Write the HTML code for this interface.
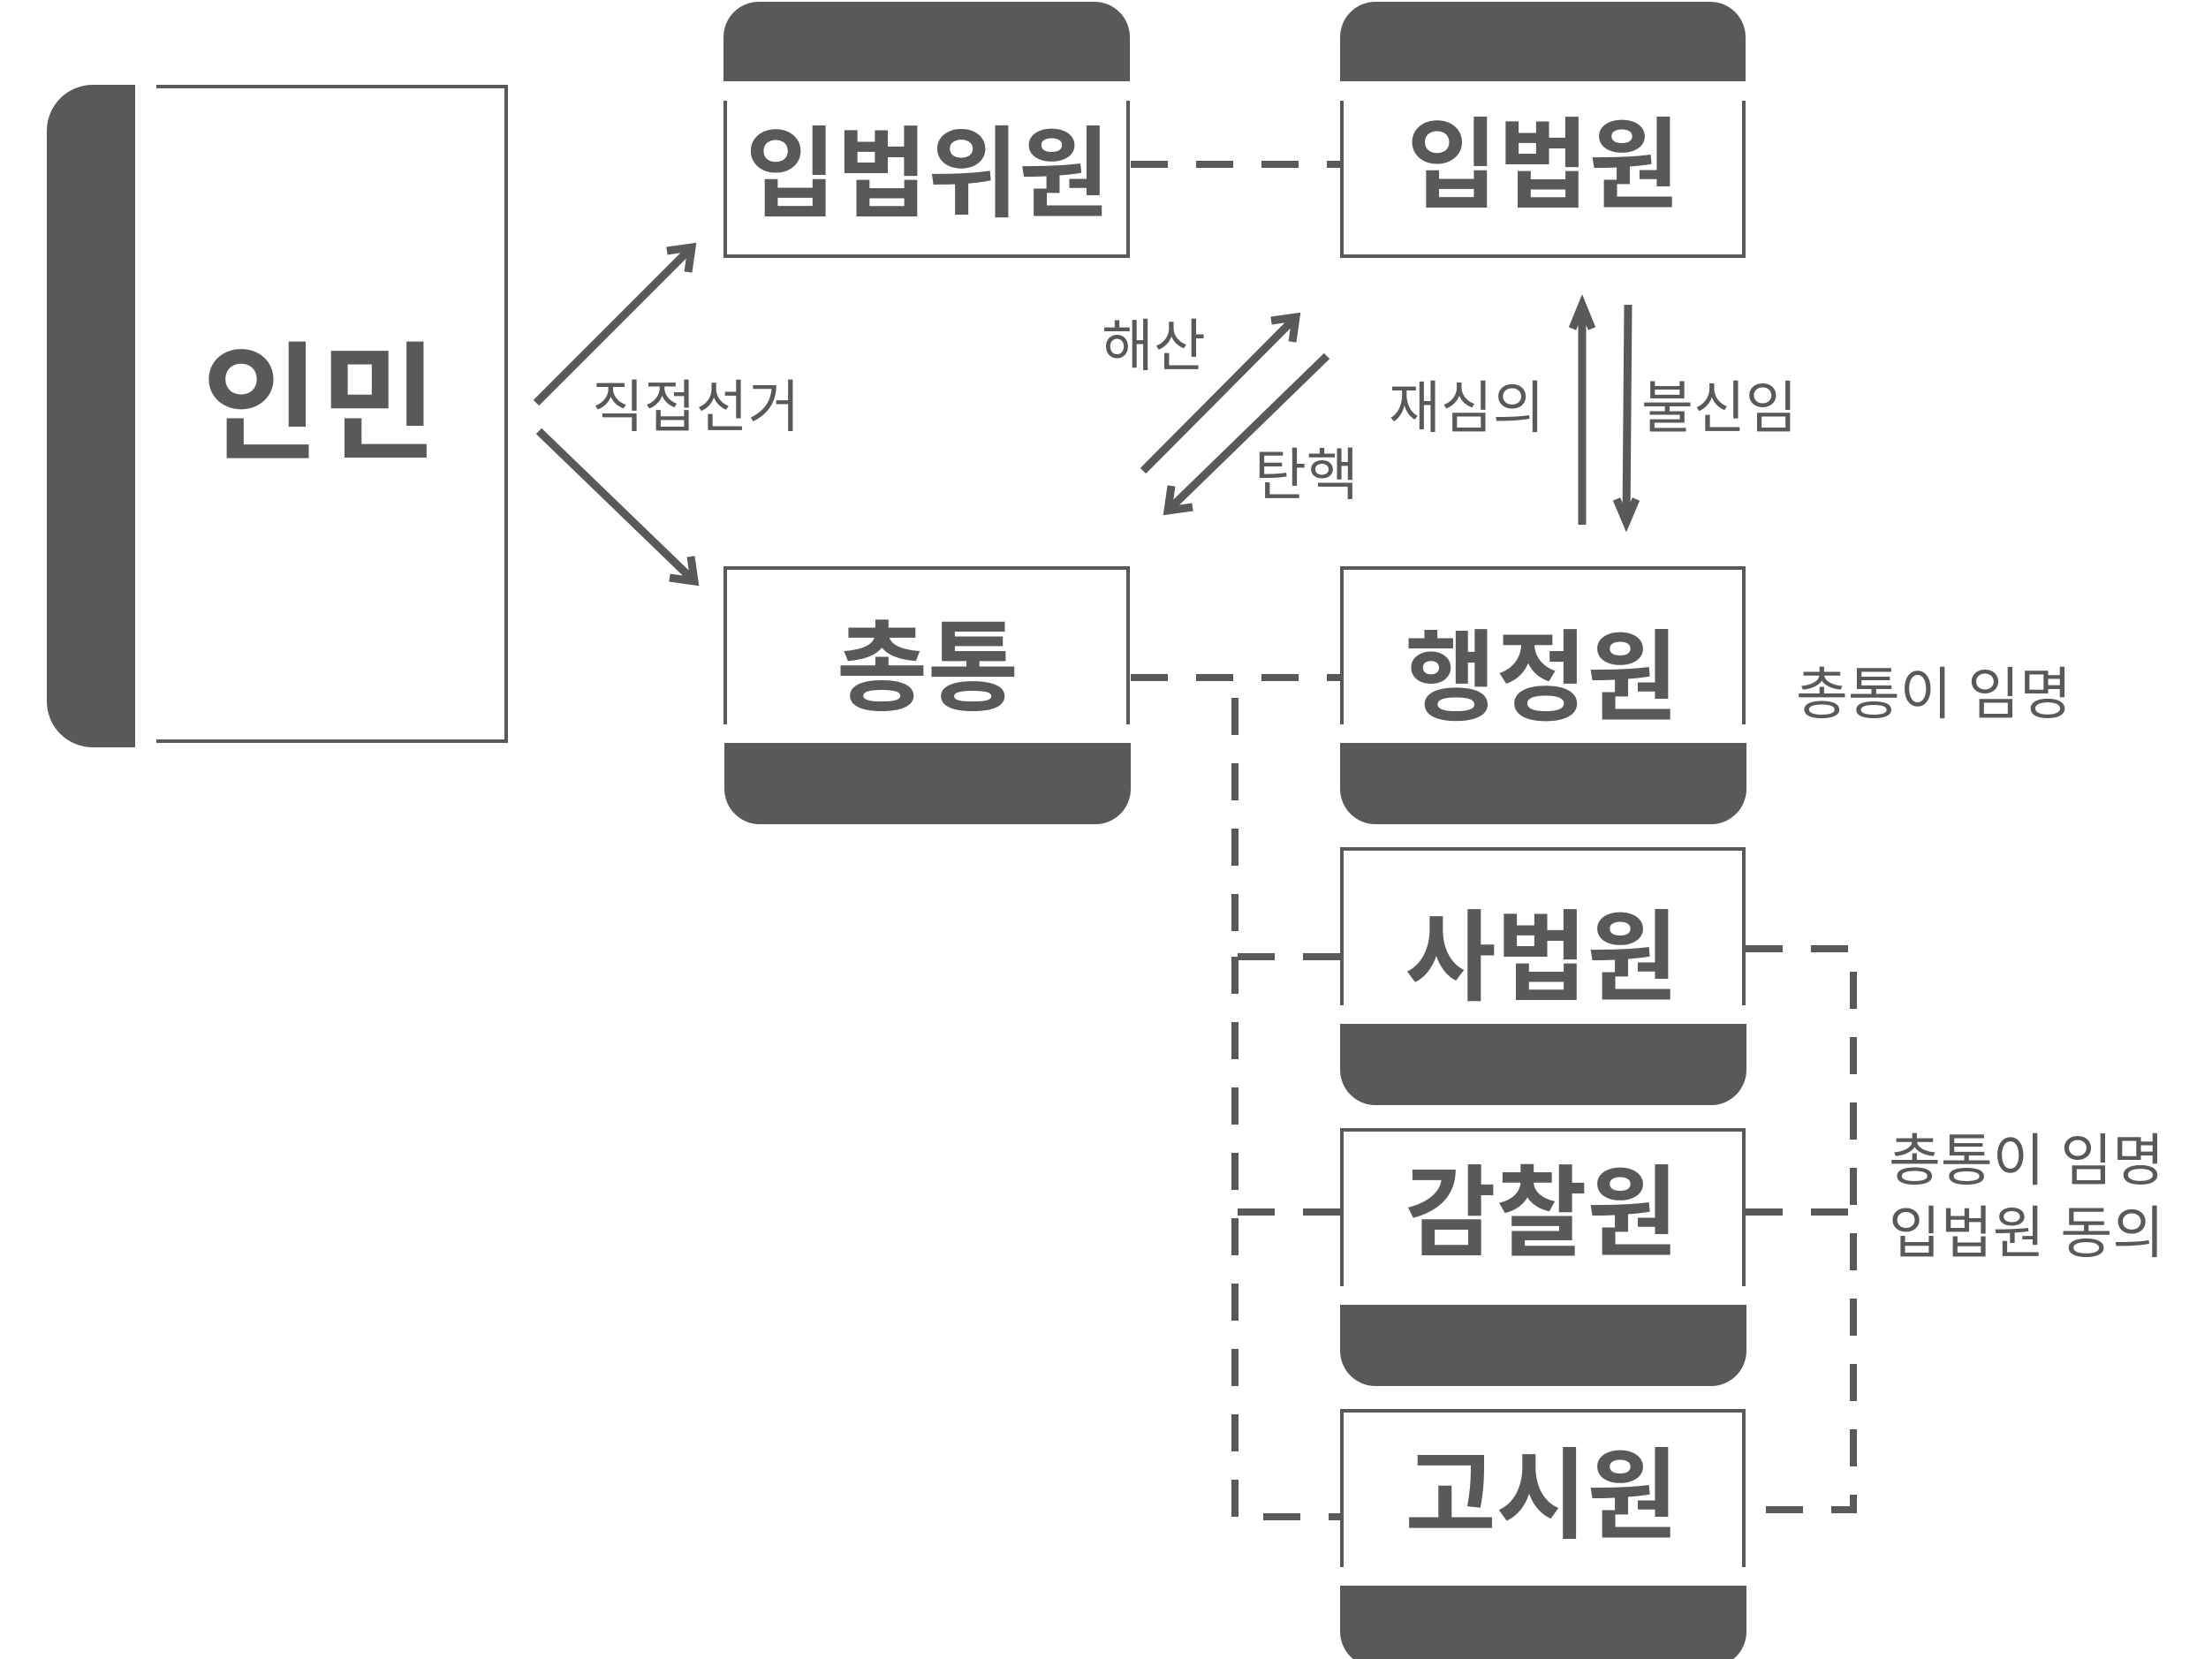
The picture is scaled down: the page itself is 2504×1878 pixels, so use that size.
<!DOCTYPE html>
<html><head><meta charset="utf-8"><style>
html,body{margin:0;padding:0;background:#fff;}
svg{display:block;}
text{font-family:"Liberation Sans","Noto Sans CJK KR",sans-serif;fill:#595959;}
.b{font-weight:bold;}
</style></head><body>
<svg width="2504" height="1878" viewBox="0 0 2504 1878" xmlns="http://www.w3.org/2000/svg">
<g fill="#595959">
<path d="M153 96 V846 H105 A52 52 0 0 1 53 794 V148 A52 52 0 0 1 105 96 Z"/>
<path d="M819 92 V42 A40 40 0 0 1 859 2 H1239 A40 40 0 0 1 1279 42 V92 Z"/>
<path d="M1517 92 V42 A40 40 0 0 1 1557 2 H1936 A40 40 0 0 1 1976 42 V92 Z"/>
<path d="M820 841 V893 A40 40 0 0 0 860 933 H1240 A40 40 0 0 0 1280 893 V841 Z"/>
<path d="M1517 841 V893 A40 40 0 0 0 1557 933 H1937 A40 40 0 0 0 1977 893 V841 Z"/>
<path d="M1517 1159 V1211 A40 40 0 0 0 1557 1251 H1937 A40 40 0 0 0 1977 1211 V1159 Z"/>
<path d="M1517 1477 V1529 A40 40 0 0 0 1557 1569 H1937 A40 40 0 0 0 1977 1529 V1477 Z"/>
<path d="M1517 1795 V1847 A40 40 0 0 0 1557 1887 H1937 A40 40 0 0 0 1977 1847 V1795 Z"/>
</g>
<g fill="none" stroke="#595959" stroke-width="4">
<path d="M177 98 H573 V839 H177"/>
<path d="M821 114 V290 H1277 V114"/>
<path d="M1519 114 V290 H1974 V114"/>
<path d="M821 820 V643 H1277 V820"/>
<path d="M1519 820 V643 H1974 V820"/>
<path d="M1519 1138 V961 H1974 V1138"/>
<path d="M1519 1456 V1279 H1974 V1456"/>
<path d="M1519 1774 V1597 H1974 V1774"/>
</g>
<g fill="none" stroke="#595959" stroke-width="9">
<line x1="607" y1="456" x2="783" y2="280"/>
<polyline points="755,284 783,280 779,308"/>
<line x1="610" y1="488" x2="786" y2="658"/>
<polyline points="758,654 786,658 782,630"/>
<line x1="1294" y1="533" x2="1467" y2="359"/>
<polyline points="1439,363 1467,359 1463,387"/>
<line x1="1502" y1="403" x2="1322" y2="578"/>
<polyline points="1326,550 1322,578 1350,574"/>
<line x1="1791" y1="594" x2="1791" y2="345"/>
<polyline points="1780,372 1791,345 1802,372"/>
<line x1="1843" y1="345" x2="1841" y2="591"/>
<polyline points="1830,565 1841,591 1852,565"/>
</g>
<g fill="none" stroke="#595959" stroke-width="8" stroke-dasharray="42 32">
<line x1="1280" y1="186" x2="1517" y2="186"/>
<line x1="1280" y1="767" x2="1517" y2="767"/>
<path d="M1517 1083 H1398 V767"/>
<path d="M1398 1083 V1717 H1517"/>
<path d="M1517 1372 H1398"/>
<path d="M1976 1074 H2098 V1709 H1976"/>
<path d="M1976 1372 H2098"/>
</g>
<g font-size="112" text-anchor="middle">
<text x="362" y="508" font-size="145" class="b">인민</text>
<text x="1050" y="236" class="b">입법위원</text>
<text x="1747" y="226" class="b">입법원</text>
<text x="1050" y="795" class="b">총통</text>
<text x="1745" y="806" class="b">행정원</text>
<text x="1745" y="1123" class="b">사법원</text>
<text x="1745" y="1412" class="b">감찰원</text>
<text x="1745" y="1732" class="b">고시원</text>
</g>
<g font-size="64">
<text x="670" y="483">직접선거</text>
<text x="1247" y="414">해산</text>
<text x="1420" y="560">탄핵</text>
<text x="1572" y="484">재심의</text>
<text x="1858" y="484">불신임</text>
<text x="2033" y="808">총통이 임명</text>
<text x="2138" y="1336">총통이 임명</text>
<text x="2138" y="1418">입법원 동의</text>
</g>
</svg>
</body></html>
